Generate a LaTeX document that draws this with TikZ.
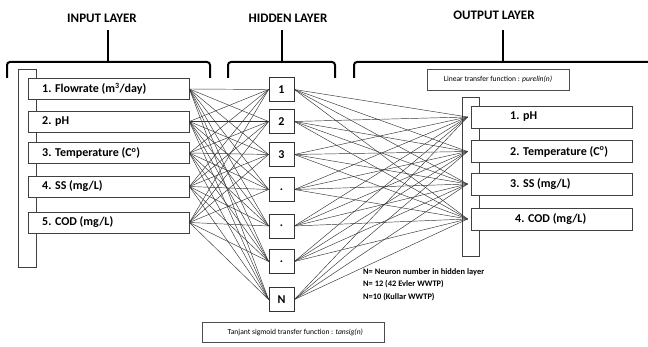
\documentclass[tikz,border=0pt]{standalone}
\usepackage{fontspec}
\setmainfont{Carlito}
\begin{document}
\begin{tikzpicture}[x=1pt,y=-1pt,
  inbox/.style={draw=black!75,fill=white,line width=0.8pt,minimum width=161pt,minimum height=21pt,inner sep=0pt},
  hnode/.style={draw=black!80,fill=white,line width=0.8pt,minimum width=25pt,minimum height=24pt,inner sep=0pt,font=\bfseries\fontsize{12}{14}\selectfont},
  outbox/.style={draw=black!75,fill=white,line width=0.8pt,minimum width=161pt,minimum height=22pt,inner sep=0pt},
  btext/.style={font=\bfseries\fontsize{12}{14}\selectfont,anchor=west,inner sep=0pt},
  title/.style={font=\bfseries\fontsize{13}{15}\selectfont},
  brace/.style={line width=2pt,rounded corners=3pt},
  conn/.style={black!80,line width=0.45pt},
  bar/.style={draw=black!75,fill=white,line width=0.8pt},
  small/.style={font=\fontsize{7.6}{9}\selectfont},
  note/.style={font=\bfseries\fontsize{8.4}{10}\selectfont,anchor=west,inner sep=0pt}]
\useasboundingbox (0,0) rectangle (648,347);

% titles
\node[title] (tin) at (102,18) {INPUT LAYER};
\node[title] (thid) at (288,18) {HIDDEN LAYER};
\node[title] (tout) at (494,15) {OUTPUT LAYER};

% braces
\draw[brace] (7,78) -- (7,62) -- (210,62) -- (210,78);
\draw[brace,rounded corners=0pt] (108,62) -- (108,30);
\draw[brace] (228,78) -- (228,62) -- (335,62) -- (335,78);
\draw[brace,rounded corners=0pt] (282,62) -- (282,30);
\draw[brace] (354,78) -- (354,62) -- (652,62);
\draw[brace,rounded corners=0pt] (503,62) -- (503,30);

% background bars
\draw[bar] (18,69) rectangle (36,267);
\draw[bar] (462,97) rectangle (479,256);

% input boxes
\node[inbox] (i1) at (108.5,89) {};
\node[inbox] (i2) at (108.5,121.5) {};
\node[inbox] (i3) at (108.5,153) {};
\node[inbox] (i4) at (108.5,186.5) {};
\node[inbox] (i5) at (108.5,222.5) {};
\node[btext] at (42,89) {1. Flowrate (m\textsuperscript{3}/day)};
\node[btext] at (42,121.5) {2. pH};
\node[btext] at (42,153) {3. Temperature (C\textsuperscript{o})};
\node[btext] at (42,186.5) {4. SS (mg/L)};
\node[btext] at (42,222.5) {5. COD (mg/L)};

% hidden nodes
\node[hnode] (h1) at (281.5,89.5) {1};
\node[hnode] (h2) at (281.5,121.5) {2};
\node[hnode] (h3) at (281.5,154.5) {3};
\node[hnode] (h4) at (281.5,189.5) {.};
\node[hnode] (h5) at (281.5,226) {.};
\node[hnode] (h6) at (281.5,261.5) {.};
\node[hnode] (h7) at (281.5,299.5) {N};

% output boxes
\node[outbox] (o1) at (551.5,117) {};
\node[outbox] (o2) at (551.5,151.5) {};
\node[outbox] (o3) at (551.5,184) {};
\node[outbox] (o4) at (551.5,219) {};
\node[btext] at (510,117) {1. pH};
\node[btext] at (510,151.5) {2. Temperature (C\textsuperscript{o})};
\node[btext] at (510,184) {3. SS (mg/L)};
\node[btext] at (515,219) {4. COD (mg/L)};

% connections
\foreach \i in {1,...,5}
  \foreach \h in {1,...,7}
    \draw[conn] (i\i.east) -- (h\h.west);
\foreach \h in {1,...,7}
  \foreach \o in {1,...,4}
    \draw[conn] (h\h.east) -- ([xshift=-3pt]o\o.west);

% transfer function boxes
\node[draw=black!70,line width=0.7pt,small,minimum width=142pt,minimum height=21pt,inner sep=0pt] (lin) at (498,79.5) {Linear transfer function : \textit{purelin(n)}};
\node[draw=black!70,line width=0.7pt,small,minimum width=182pt,minimum height=20pt,inner sep=0pt,anchor=west] (tan) at (202,332) {\hspace{4pt}Tanjant sigmoid transfer function : \textit{tansig(n)}\hfill};

% notes
\node[note] (n1) at (363,272) {N= Neuron number in hidden layer};
\node[note] (n2) at (363,284.5) {N= 12 (42 Evler WWTP)};
\node[note] (n3) at (363,297) {N=10 (Kullar WWTP)};
\end{tikzpicture}
\end{document}
